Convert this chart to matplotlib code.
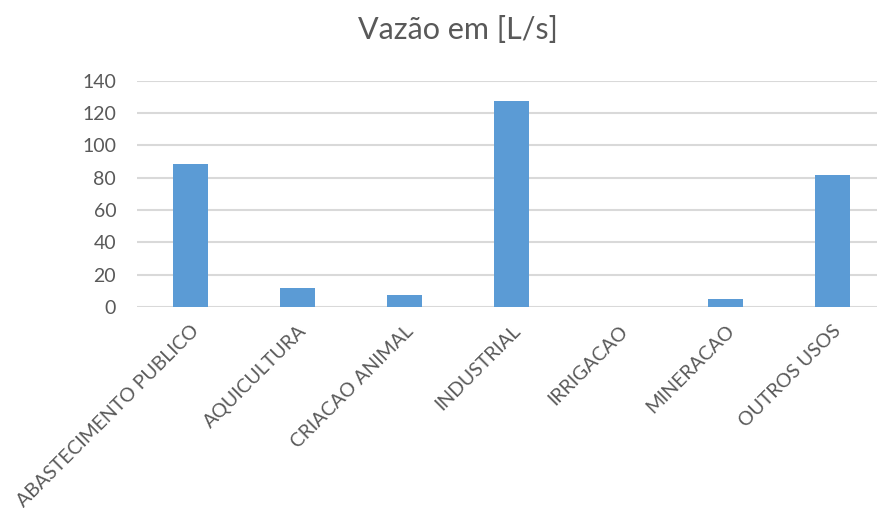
import matplotlib.pyplot as plt

categorias = ['ABASTECIMENTO PUBLICO', 'AQUICULTURA', 'CRIACAO ANIMAL', 'INDUSTRIAL',
              'IRRIGACAO', 'MINERACAO', 'OUTROS USOS']
vazao = [88.6, 12.0, 7.2, 127.4, 0.0, 5.0, 81.6]
yticks = [0, 20, 40, 60, 80, 100, 120, 140]

plt.rcParams['font.family'] = ['Lato', 'DejaVu Sans']

fig = plt.figure(figsize=(8.77, 5.08), dpi=100)
ax = fig.add_axes([137 / 877, 1 - 307 / 508, (886 - 137) / 877, (307 - 80.7) / 508])

x = range(len(categorias))
ax.bar(x, vazao, width=0.32, color='#5B9BD5', zorder=3)

ax.set_xlim(-0.5, len(categorias) - 0.5)
ax.set_ylim(0, 140)
ax.set_yticks(yticks)
ax.set_xticks(list(x))
ax.set_xticklabels(categorias, rotation=45, ha='right', rotation_mode='anchor',
                   fontsize=14, color='#595959')
ax.tick_params(axis='y', labelsize=14, labelcolor='#595959', length=0, pad=15)
ax.tick_params(axis='x', length=0, pad=11)

ax.grid(axis='y', color='#D9D9D9', linewidth=1.5, zorder=0)
for s in ['top', 'right', 'left', 'bottom']:
    ax.spines[s].set_visible(False)

fig.text(0.522, 0.94, 'Vazão em [L/s]', ha='center', va='center', fontsize=22, color='#595959')

fig.savefig('out.png', dpi=100)
